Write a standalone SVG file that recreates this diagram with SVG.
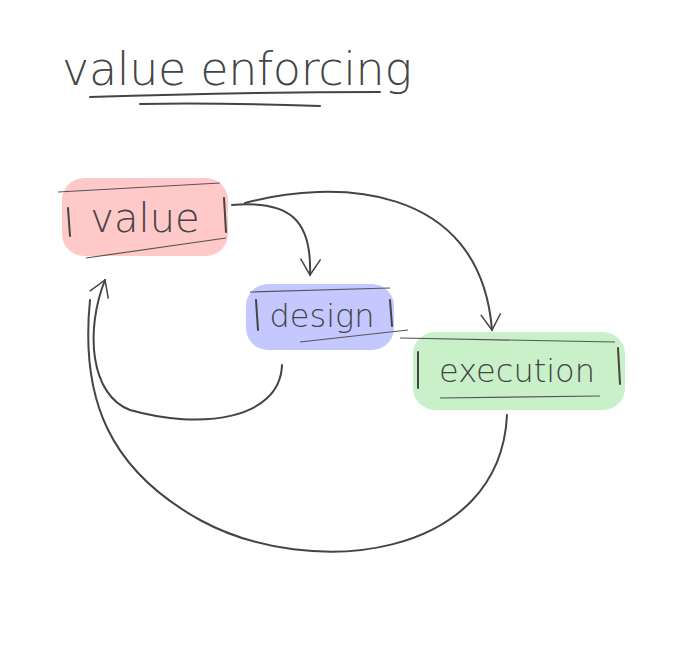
<svg xmlns="http://www.w3.org/2000/svg" width="682" height="648" viewBox="0 0 682 648">
<defs>
<style>
.t{font-family:"DejaVu Sans","Liberation Sans",sans-serif;font-weight:300;fill:#444;}
.l{fill:none;stroke:#444;stroke-width:2;stroke-linecap:round;}
.thin{fill:none;stroke:#555;stroke-width:1.2;}
</style>
<marker id="a" markerWidth="24" markerHeight="24" refX="20" refY="12" orient="auto" markerUnits="userSpaceOnUse">
<path d="M4,2 L20,12 L4,22" fill="none" stroke="#444" stroke-width="1.5"/>
</marker>
</defs>
<rect width="682" height="648" fill="#fff"/>
<g id="title">
<text class="t" x="62" y="85" font-size="46" textLength="350">value enforcing</text>
<path class="l" d="M90,97 C180,94 300,92 380,92"/>
<path class="l" d="M140,104 C200,103 260,104 320,106" stroke-width="1.5"/>
</g>
<g id="connectors">
<path class="l" d="M232,205 C290,200 312,220 310,275" marker-end="url(#a)" stroke-width="1.5"/>
<path class="l" d="M245,203 C330,180 480,180 492,330" marker-end="url(#a)" stroke-width="1.5"/>
<path class="l" d="M282,365 C280,420 200,430 130,410 C90,395 85,330 105,280" marker-end="url(#a)" stroke-width="1.5"/>
<path class="l" d="M507,415 C500,560 310,580 200,520 C110,470 80,400 90,300"/>
</g>
<g id="value">
<rect x="62" y="178" width="166" height="78" rx="22" fill="#ffc9c9"/>
<path class="thin" d="M58,192 L220,183 M86,258 L226,238"/>
<path class="l" d="M68,208 L70,236 M224,198 L226,232"/>
<text class="t" x="145" y="232" font-size="40" text-anchor="middle">value</text>
</g>
<g id="design">
<rect x="246" y="284" width="148" height="66" rx="22" fill="#c5c8ff"/>
<path class="thin" d="M250,292 L390,288 M300,342 L408,330"/>
<path class="l" d="M256,300 L258,330 M390,300 L392,326"/>
<text class="t" x="322" y="327" font-size="32" text-anchor="middle">design</text>
</g>
<g id="execution">
<rect x="413" y="332" width="212" height="78" rx="22" fill="#c9f0c9"/>
<path class="thin" d="M400,338 L615,342 M440,398 L600,396"/>
<path class="l" d="M418,352 L418,388 M618,348 L620,384"/>
<text class="t" x="517" y="382" font-size="32" text-anchor="middle">execution</text>
</g>
</svg>
